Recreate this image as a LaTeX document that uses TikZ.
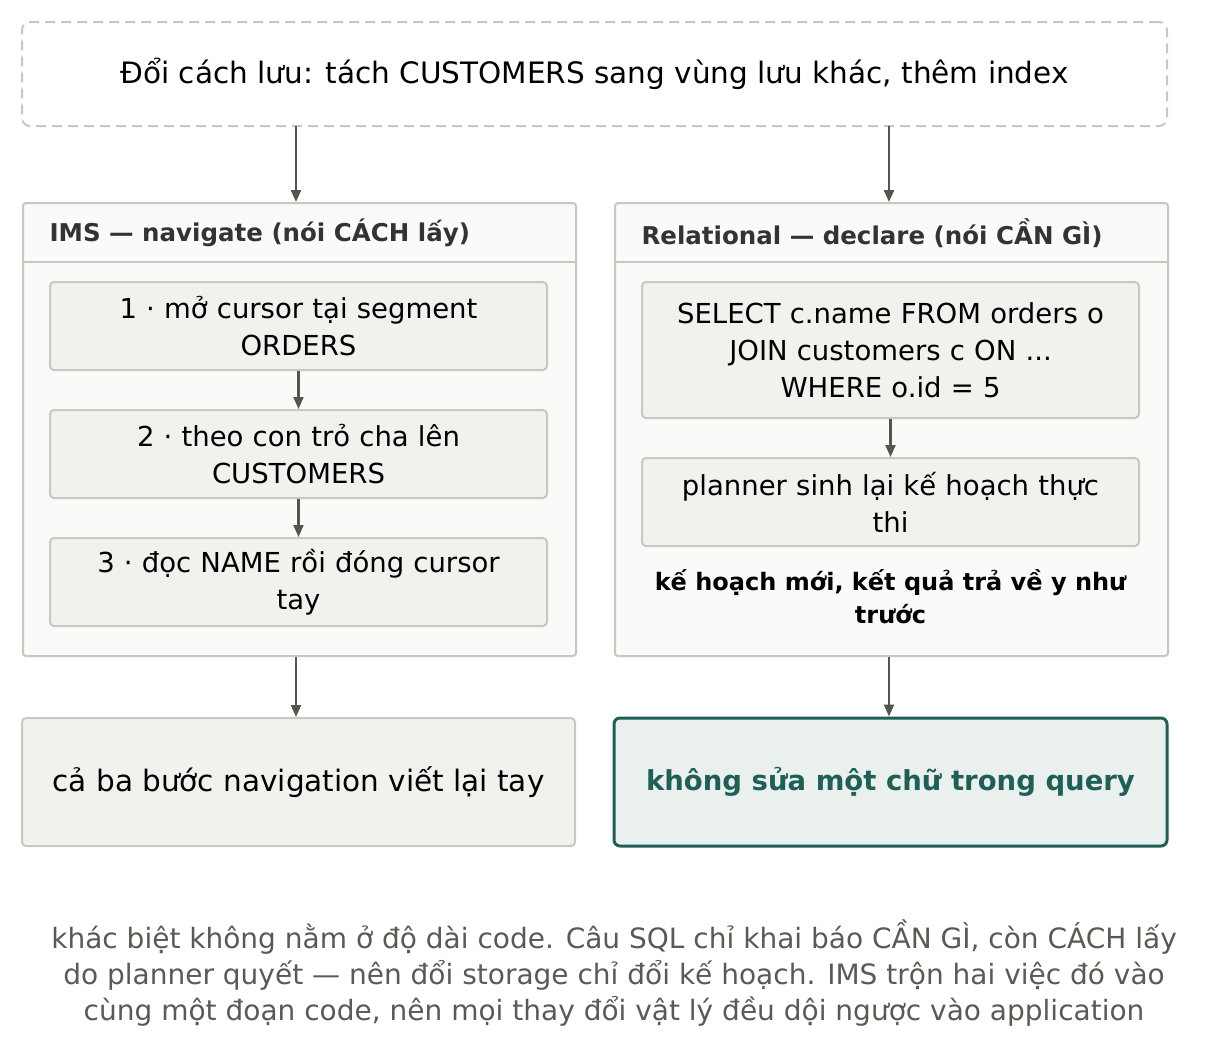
\documentclass[tikz,border=0pt]{standalone}
\usepackage{fontspec}
\setmainfont{DejaVu Sans}
\usepackage{xcolor}
\usetikzlibrary{positioning,arrows.meta}
\definecolor{edge}{HTML}{C9C7C2}
\definecolor{boxfill}{HTML}{F2F1EE}
\definecolor{panelfill}{HTML}{FBFAF8}
\definecolor{arrowc}{HTML}{55554F}
\definecolor{teal}{HTML}{1F5F55}
\definecolor{tealfill}{HTML}{E9F0EE}
\definecolor{capc}{HTML}{5A5A55}
\tikzset{
  panel/.style={draw=edge,line width=2pt,fill=panelfill,rounded corners=3pt,minimum width=553pt,minimum height=453pt,anchor=north west},
  stepbox/.style={draw=edge,line width=2pt,fill=boxfill,rounded corners=4pt,minimum width=497pt,align=center,font=\fontsize{27.5}{37}\selectfont,text width=490pt},
  head/.style={anchor=west,font=\fontsize{24.5}{30}\selectfont\bfseries,text=black!80},
  flow/.style={-{Triangle[length=12pt,width=10pt]},line width=2.2pt,draw=arrowc},
}
\begin{document}
\begin{tikzpicture}[x=1pt,y=-1pt]
\useasboundingbox (0,0) rectangle (1219,1063);
%top box
\node[draw=edge,dashed,dash pattern=on 10pt off 6pt,line width=2pt,rounded corners=8pt,minimum width=1145pt,minimum height=104pt,font=\fontsize{29.5}{34}\selectfont] (top) at (594.5,74) {Đổi cách lưu: tách CUSTOMERS sang vùng lưu khác, thêm index};
%panels
\node[panel] (ims) at (22,202) {};
\node[panel] (rel) at (614,202) {};
\draw[edge,line width=2pt] (22,262) -- (575,262) (614,262) -- (1167,262);
\node[head] (imsh) at (46,233) {IMS — navigate (nói CÁCH lấy)};
\node[head] (relh) at (638,233) {Relational — declare (nói CẦN GÌ)};
%left steps
\node[stepbox,minimum height=88pt] (s1) at (298.5,326) {1 · mở cursor tại segment\\ORDERS};
\node[stepbox,minimum height=88pt] (s2) at (298.5,454) {2 · theo con trỏ cha lên\\CUSTOMERS};
\node[stepbox,minimum height=88pt] (s3) at (298.5,582) {3 · đọc NAME rồi đóng cursor\\tay};
%right steps
\node[stepbox,minimum height=136pt] (q1) at (890.5,350) {SELECT c.name FROM orders o\\JOIN customers c ON ...\\WHERE o.id = 5};
\node[stepbox,minimum height=88pt] (q2) at (890.5,502) {planner sinh lại kế hoạch thực\\thi};
\node[font=\fontsize{24}{33}\selectfont\bfseries,align=center] (note) at (890.5,597) {kế hoạch mới, kết quả trả về y như\\trước};
%results
\node[draw=edge,line width=2pt,fill=boxfill,rounded corners=4pt,minimum width=553pt,minimum height=128pt,font=\fontsize{29.5}{32}\selectfont] (resl) at (298.5,782) {cả ba bước navigation viết lại tay};
\node[draw=teal,line width=3pt,fill=tealfill,rounded corners=6pt,minimum width=553pt,minimum height=128pt,font=\fontsize{27.5}{32}\selectfont\bfseries,text=teal] (resr) at (890.5,782) {không sửa một chữ trong query};
%arrows
\coordinate (a1) at (296,126); \coordinate (a2) at (296,202);
\coordinate (b1) at (889,126); \coordinate (b2) at (889,202);
\draw[flow] (a1) -- (a2);
\draw[flow] (b1) -- (b2);
\draw[flow] (s1) -- (s2);
\draw[flow] (s2) -- (s3);
\draw[flow] (q1) -- (q2);
\draw[flow] (ims.south -| a1) -- (resl.north -| a1);
\draw[flow] (rel.south -| b1) -- (resr.north -| b1);
%caption
\node[font=\fontsize{28}{36}\selectfont,text=capc,align=center] (cap) at (614,973) {khác biệt không nằm ở độ dài code. Câu SQL chỉ khai báo CẦN GÌ, còn CÁCH lấy\\do planner quyết — nên đổi storage chỉ đổi kế hoạch. IMS trộn hai việc đó vào\\cùng một đoạn code, nên mọi thay đổi vật lý đều dội ngược vào application};
\end{tikzpicture}
\end{document}
